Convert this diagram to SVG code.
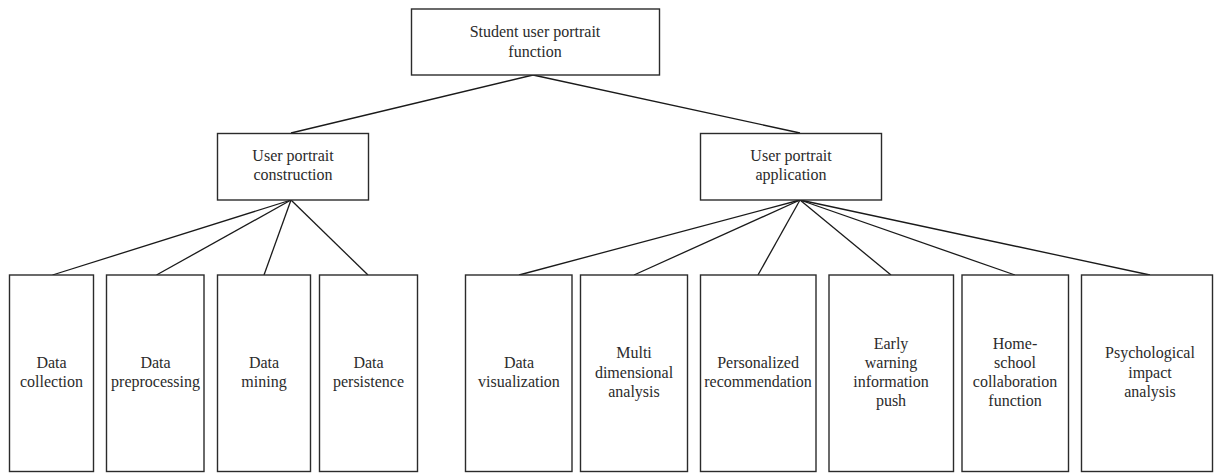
<svg xmlns="http://www.w3.org/2000/svg" width="1214" height="473" viewBox="0 0 1214 473">
  <style>
    .box { fill: #ffffff; stroke: #2b2b2b; stroke-width: 1.4; }
    .lbl { font-family: "Liberation Serif", "Times New Roman", serif; font-size: 16px; fill: #2b2b2b; text-anchor: middle; }
    .link { stroke: #1a1a1a; stroke-width: 1.3; fill: none; }
  </style>
  <rect width="1214" height="473" fill="#ffffff"/>

  <!-- connectors -->
  <g id="connectors">
    <line class="link" x1="533" y1="75" x2="291" y2="133"/>
    <line class="link" x1="533" y1="75" x2="800" y2="133"/>
    <line class="link" x1="291" y1="200" x2="52.5" y2="275"/>
    <line class="link" x1="291" y1="200" x2="156.5" y2="275"/>
    <line class="link" x1="291" y1="200" x2="264" y2="275"/>
    <line class="link" x1="291" y1="200" x2="368" y2="275"/>
    <line class="link" x1="800" y1="200" x2="519" y2="275"/>
    <line class="link" x1="800" y1="200" x2="634" y2="275"/>
    <line class="link" x1="800" y1="200" x2="758" y2="275"/>
    <line class="link" x1="800" y1="200" x2="891" y2="275"/>
    <line class="link" x1="800" y1="200" x2="1015" y2="275"/>
    <line class="link" x1="800" y1="200" x2="1150" y2="275"/>
  </g>

  <!-- root -->
  <g id="root">
    <rect class="box" x="411.5" y="9" width="248" height="66"/>
    <text class="lbl" x="535" y="37">Student user portrait</text>
    <text class="lbl" x="535" y="57">function</text>
  </g>

  <!-- second level -->
  <g id="construction">
    <rect class="box" x="217.5" y="133.5" width="151" height="66.5"/>
    <text class="lbl" x="293" y="161">User portrait</text>
    <text class="lbl" x="293" y="180">construction</text>
  </g>
  <g id="application">
    <rect class="box" x="700.5" y="133.5" width="181" height="66.5"/>
    <text class="lbl" x="791" y="161">User portrait</text>
    <text class="lbl" x="791" y="180">application</text>
  </g>

  <!-- construction leaves -->
  <g id="data-collection">
    <rect class="box" x="9.5" y="275" width="84" height="196.5"/>
    <text class="lbl" x="51.5" y="368">Data</text>
    <text class="lbl" x="51.5" y="387">collection</text>
  </g>
  <g id="data-preprocessing">
    <rect class="box" x="106.5" y="275" width="97.5" height="196.5"/>
    <text class="lbl" x="155.5" y="368">Data</text>
    <text class="lbl" x="155.5" y="387">preprocessing</text>
  </g>
  <g id="data-mining">
    <rect class="box" x="217.5" y="275" width="93" height="196.5"/>
    <text class="lbl" x="264" y="368">Data</text>
    <text class="lbl" x="264" y="387">mining</text>
  </g>
  <g id="data-persistence">
    <rect class="box" x="319.5" y="275" width="98" height="196.5"/>
    <text class="lbl" x="368.5" y="368">Data</text>
    <text class="lbl" x="368.5" y="387">persistence</text>
  </g>

  <!-- application leaves -->
  <g id="data-visualization">
    <rect class="box" x="465.5" y="275" width="106.5" height="196.5"/>
    <text class="lbl" x="519" y="368">Data</text>
    <text class="lbl" x="519" y="387">visualization</text>
  </g>
  <g id="multi-dimensional">
    <rect class="box" x="580.5" y="275" width="107" height="196.5"/>
    <text class="lbl" x="634" y="358">Multi</text>
    <text class="lbl" x="634" y="378">dimensional</text>
    <text class="lbl" x="634" y="397">analysis</text>
  </g>
  <g id="personalized">
    <rect class="box" x="700.5" y="275" width="115.5" height="196.5"/>
    <text class="lbl" x="758" y="368">Personalized</text>
    <text class="lbl" x="758" y="387">recommendation</text>
  </g>
  <g id="early-warning">
    <rect class="box" x="829" y="275" width="124.5" height="196.5"/>
    <text class="lbl" x="891" y="349">Early</text>
    <text class="lbl" x="891" y="368">warning</text>
    <text class="lbl" x="891" y="387">information</text>
    <text class="lbl" x="891" y="406">push</text>
  </g>
  <g id="home-school">
    <rect class="box" x="962" y="275" width="106.5" height="196.5"/>
    <text class="lbl" x="1015" y="349">Home-</text>
    <text class="lbl" x="1015" y="368">school</text>
    <text class="lbl" x="1015" y="387">collaboration</text>
    <text class="lbl" x="1015" y="406">function</text>
  </g>
  <g id="psychological">
    <rect class="box" x="1081.5" y="275" width="131" height="196.5"/>
    <text class="lbl" x="1150" y="358">Psychological</text>
    <text class="lbl" x="1150" y="378">impact</text>
    <text class="lbl" x="1150" y="397">analysis</text>
  </g>
</svg>
